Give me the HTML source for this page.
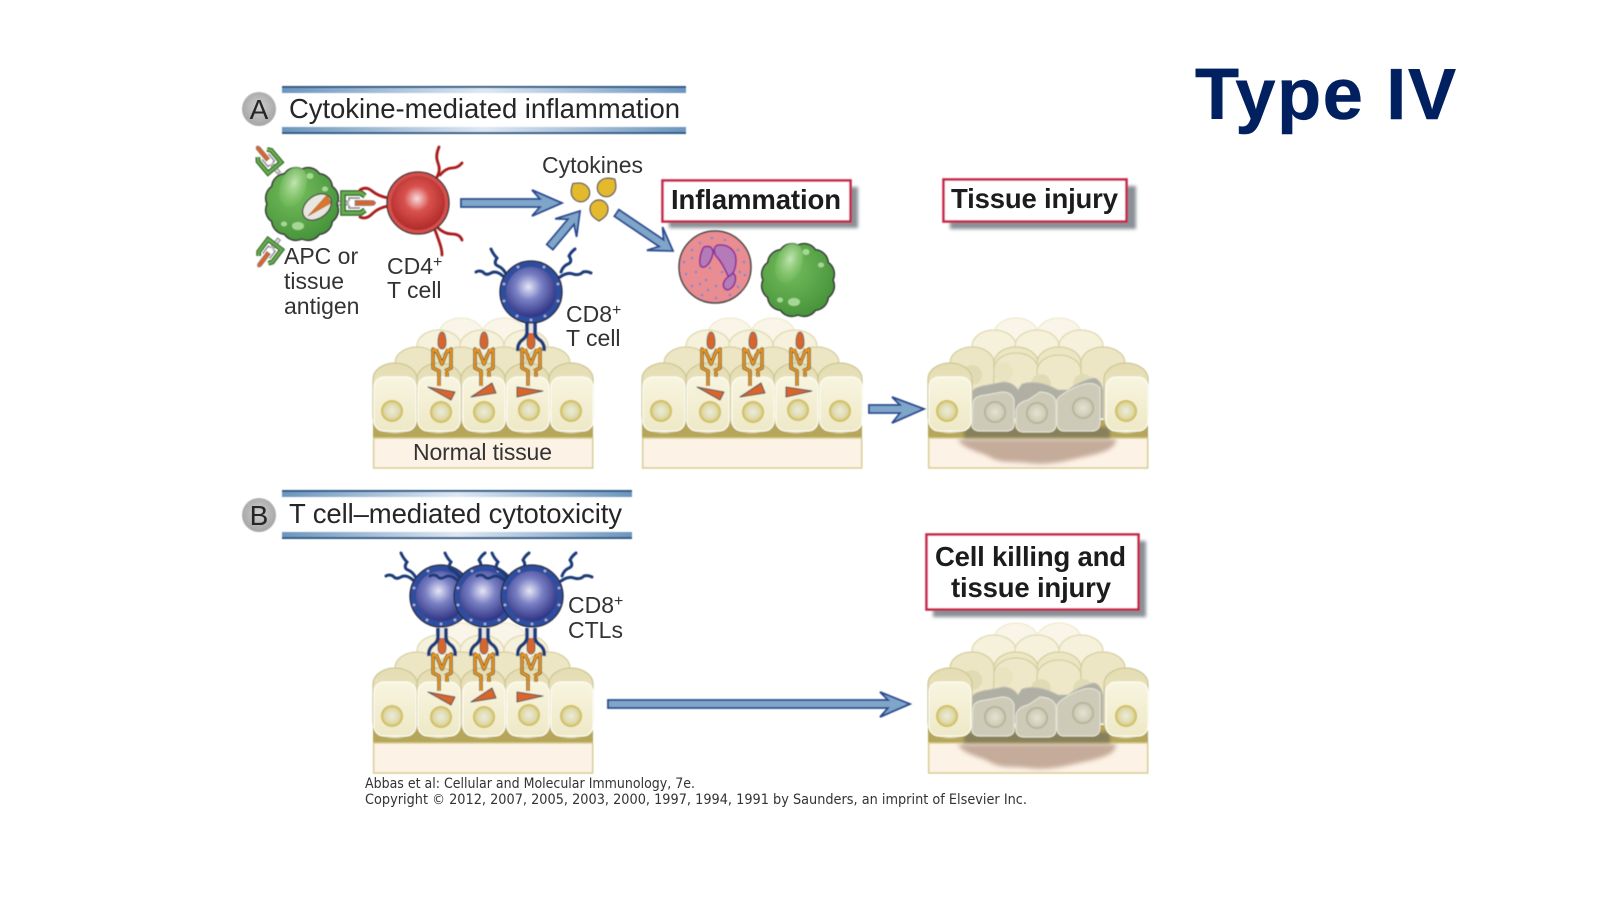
<!DOCTYPE html>
<html>
<head>
<meta charset="utf-8">
<style>
html,body{margin:0;padding:0;background:#fff;width:1600px;height:900px;overflow:hidden}
svg{display:block}
text{font-family:"Liberation Sans",sans-serif;fill:#262626}
.b{font-weight:bold;fill:#1c1c1c}
.l{font-size:23px;fill:#333}
.h{font-size:27.5px}
</style>
</head>
<body>
<svg width="1600" height="900" viewBox="0 0 1600 900" xmlns="http://www.w3.org/2000/svg">
<defs>
<linearGradient id="bar" x1="0" x2="1" y1="0" y2="0"><stop offset="0" stop-color="#6c95bd"/><stop offset=".5" stop-color="#dde7f2"/><stop offset="1" stop-color="#6c95bd"/></linearGradient>
<radialGradient id="gb" cx=".5" cy=".45" r=".55"><stop offset="0" stop-color="#d0d0d0"/><stop offset="1" stop-color="#a4a4a4"/></radialGradient>
<radialGradient id="red" cx=".48" cy=".42" r=".58"><stop offset="0" stop-color="#f7dcdc"/><stop offset=".4" stop-color="#d9524e"/><stop offset="1" stop-color="#b02a2a"/></radialGradient>
<radialGradient id="blue" cx=".45" cy=".4" r=".62"><stop offset="0" stop-color="#e6e6f6"/><stop offset=".42" stop-color="#7a80c4"/><stop offset="1" stop-color="#2c3080"/></radialGradient>
<radialGradient id="green" cx=".4" cy=".35" r=".7"><stop offset="0" stop-color="#74bd5c"/><stop offset="1" stop-color="#46923a"/></radialGradient>
<radialGradient id="hl" cx=".5" cy=".4" r=".6"><stop offset="0" stop-color="#c4e6b4"/><stop offset="1" stop-color="#74bd5c" stop-opacity=".4"/></radialGradient>
<radialGradient id="nuc" cx=".5" cy=".5" r=".5"><stop offset="0" stop-color="#ecebd8"/><stop offset=".65" stop-color="#dedaaf"/><stop offset=".85" stop-color="#d8c870"/><stop offset="1" stop-color="#c7b350"/></radialGradient>
<radialGradient id="nug" cx=".5" cy=".5" r=".5"><stop offset="0" stop-color="#e4e3d2"/><stop offset=".75" stop-color="#cfcdb8"/><stop offset="1" stop-color="#aaa88e"/></radialGradient>
<linearGradient id="cellf" x1="0" x2="0" y1="0" y2="1"><stop offset="0" stop-color="#f8f5e0"/><stop offset="1" stop-color="#eee8c6"/></linearGradient>
<linearGradient id="capf" x1="0" x2="0" y1="0" y2="1"><stop offset="0" stop-color="#e4ddb2"/><stop offset="1" stop-color="#f0ebcd"/></linearGradient>
<filter id="bl" x="-20%" y="-50%" width="140%" height="200%"><feGaussianBlur stdDeviation="2"/></filter>
<filter id="sh" x="-10%" y="-20%" width="120%" height="140%"><feGaussianBlur stdDeviation="1.5"/></filter>
<filter id="art" x="-5%" y="-5%" width="110%" height="110%"><feGaussianBlur stdDeviation="0.45"/></filter>

<path id="wob" d="M35 0A14 14 0 0 1 30.3 17.5A14 14 0 0 1 17.5 30.3A14 14 0 0 1 0 35A14 14 0 0 1 -17.5 30.3A14 14 0 0 1 -30.3 17.5A14 14 0 0 1 -35 0A14 14 0 0 1 -30.3 -17.5A14 14 0 0 1 -17.5 -30.3A14 14 0 0 1 0 -35A14 14 0 0 1 17.5 -30.3A14 14 0 0 1 30.3 -17.5A14 14 0 0 1 35 0Z"/>

<g id="apc">
<use href="#wob" fill="url(#green)" stroke="#333" stroke-width="1.5"/>
<ellipse cx="-9" cy="-17" rx="13" ry="21" transform="rotate(18 -9 -17)" fill="url(#hl)"/>
<ellipse cx="-4" cy="22" rx="6" ry="4" fill="#a6d894"/>
<ellipse cx="-18" cy="20" rx="3" ry="2.5" fill="#a6d894"/>
<ellipse cx="8" cy="-28" rx="3.5" ry="3" fill="#a6d894"/>
<ellipse cx="23" cy="-15" rx="3" ry="2.5" fill="#a6d894"/>
</g>

<g id="cd8">
<g fill="none" stroke="#1d3a78" stroke-width="3" stroke-linecap="round">
<path d="M-25 -18Q-28 -24 -33 -26T-34 -34Q-38 -38 -40 -43"/>
<path d="M-28 -16Q-35 -22 -40 -19T-48 -20Q-52 -22 -55 -20"/>
<path d="M30 -20Q32 -26 37 -28T38 -36Q40 -40 44 -43"/>
<path d="M29 -15Q36 -20 42 -18T52 -20Q56 -21 60 -19"/>
</g>
<circle r="31" fill="#2d4d9e" stroke="#2a2a38" stroke-width="1.3"/>
<circle r="25" fill="url(#blue)"/>
<g fill="#aab0dc"><circle cx="-27" cy="-8" r="1.4"/><circle cx="-27" cy="9" r="1.4"/><circle cx="-14" cy="24" r="1.4"/><circle cx="0" cy="28" r="1.4"/><circle cx="14" cy="24" r="1.4"/><circle cx="27" cy="9" r="1.4"/><circle cx="27" cy="-8" r="1.4"/><circle cx="13" cy="-25" r="1.4"/><circle cx="-13" cy="-25" r="1.4"/></g>
</g>

<g id="pep"><path d="M0 -8C3 -8 4 -2 4 3C4 7 2 9 0 9C-2 9 -4 7 -4 3C-4 -2 -3 -8 0 -8Z" fill="#d9652a" stroke="#666" stroke-width="1"/></g>
<g id="mhc">
<g fill="none" stroke-linejoin="round">
<path d="M-4 13L-9 9V28L-3 31V46M4 13L9 9V28L3 31M-6 9L0 24L6 9M5 32V37" stroke="#5a4a20" stroke-width="3.6"/>
<path d="M-4 13L-9 9V28L-3 31V46M4 13L9 9V28L3 31M-6 9L0 24L6 9M5 32V37" stroke="#ea941a" stroke-width="2.1"/>
</g>
<use href="#pep"/>
</g>
<g id="tcrfork" fill="none">
<rect x="-2.5" y="-17" width="5" height="10" fill="#e4e4e4"/>
<path d="M-4 -17V-8Q-4 -3 -10 1Q-14 5 -13 11M4 -17V-8Q4 -3 10 1Q14 5 13 11" stroke="#1d3a78" stroke-width="3.6"/>
</g>

<g id="back">
<g fill="#f9f6e9" stroke="#efead0" stroke-width="1.3"><rect x="66" y="18" width="44" height="70" rx="22" ry="16"/><rect x="109" y="18" width="44" height="70" rx="22" ry="16"/></g>
<g fill="#f5f1da" stroke="#e0d9b0" stroke-width="1.3"><rect x="44" y="30" width="44" height="70" rx="22" ry="16"/><rect x="87" y="30" width="44" height="70" rx="22" ry="16"/><rect x="131" y="30" width="44" height="70" rx="22" ry="16"/></g>
<g fill="#ece6c4" stroke="#d6cea0" stroke-width="1.3"><rect x="22" y="47" width="44" height="70" rx="22" ry="16"/><rect x="66" y="47" width="44" height="70" rx="22" ry="16"/><rect x="109" y="47" width="44" height="70" rx="22" ry="16"/><rect x="153" y="47" width="44" height="70" rx="22" ry="16"/></g>
<rect x="0" y="120" width="220" height="18" fill="#b5a65a"/>
<rect x=".7" y="138" width="219" height="30" fill="#fdf2e6" stroke="#d8cd90" stroke-width="1.5"/>
</g>
<g id="cap"><rect width="44" height="70" y="63" rx="22" ry="16" fill="url(#capf)" stroke="#cfc796" stroke-width="1.3"/></g>
<g id="cell"><rect x="1" y="77" width="42" height="54" rx="10" fill="url(#cellf)" stroke="#fdfcf4" stroke-width="1.2"/></g>

<g id="normal" transform="translate(373 300)">
<use href="#back"/>
<use href="#cap" x="0"/><use href="#cap" x="44"/><use href="#cap" x="88"/><use href="#cap" x="132"/><use href="#cap" x="176"/>
<use href="#cell" x="0"/><use href="#cell" x="44"/><use href="#cell" x="89"/><use href="#cell" x="133"/><use href="#cell" x="177"/>
<g fill="url(#nuc)"><circle cx="19" cy="111" r="11"/><circle cx="68" cy="112" r="11"/><circle cx="111" cy="112" r="11"/><circle cx="156" cy="110" r="11"/><circle cx="198" cy="111" r="11"/></g>
<g fill="#d9652a" stroke="#555" stroke-width="1.1" stroke-linejoin="round">
<polygon points="55,87 82,92 78,100"/><polygon points="98,97 119,83 123,93"/><polygon points="144,87 170,91 144,97"/>
</g>
<use href="#mhc" x="69" y="40"/><use href="#mhc" x="111" y="40"/><use href="#mhc" x="158" y="40"/>
</g>

<g id="injured" transform="translate(928 300)">
<use href="#back"/>
<rect x="66" y="53" width="44" height="70" rx="22" ry="16" fill="#eee8c8" stroke="#d6cea0" stroke-width="1.3"/>
<rect x="109" y="55" width="44" height="70" rx="22" ry="16" fill="#eee8c8" stroke="#d6cea0" stroke-width="1.3"/>
<g fill="#e0dbb4"><circle cx="75" cy="72" r="10" opacity=".4"/><circle cx="113" cy="84" r="10"/><circle cx="155" cy="84" r="10"/><circle cx="44" cy="75" r="10"/></g>
<path d="M30 139H188C188 148 178 152 160 156C140 160 124 166 100 163C84 161 72 164 60 156C46 150 34 148 30 139Z" fill="#c5ab9a" filter="url(#bl)"/>
<rect x="36" y="127" width="146" height="11" fill="#87805a" filter="url(#sh)"/>
<path d="M44 92Q46 87 60 85L75 82Q85 82 90 90L94 84Q110 79 130 90L140 90Q150 82 165 78Q172 78 175 90V118H44Z" fill="#b0afa4" stroke="#c4c3b6" stroke-width="1"/>
<use href="#cap" x="0"/><use href="#cap" x="176"/>
<use href="#cell" x="0"/><use href="#cell" x="177"/>
<g fill="#cdcbb8" stroke="#e2e1d4" stroke-width="1.2">
<path d="M45 104Q45 96 58 95L74 92Q84 92 86 100V124Q86 131 78 131H52Q44 131 44 124Z"/>
<path d="M88 110Q90 102 100 100L112 92Q128 93 128 104V124Q128 132 120 132H96Q88 132 88 124Z"/>
<path d="M129 100Q132 94 150 86Q166 80 172 88V122Q172 131 164 131H136Q129 131 129 122Z"/>
</g>
<g><circle cx="67" cy="112" r="11" fill="url(#nug)"/><circle cx="109" cy="113" r="11" fill="url(#nug)"/><circle cx="155" cy="108" r="11" fill="url(#nug)"/></g>
<g fill="url(#nuc)"><circle cx="19" cy="111" r="11"/><circle cx="198" cy="111" r="11"/></g>
</g>

<g id="tcr">
<rect x="0" y="-2" width="12" height="4" fill="#ddd" stroke="#777" stroke-width="1"/>
<path d="M30 -7L26 -10H8V10H26L30 7" fill="none" stroke="#2e5c28" stroke-width="5.5"/>
<path d="M30 -7L26 -10H8V10H26L30 7" fill="none" stroke="#63ad4c" stroke-width="3"/>
<path d="M25 -5H14V5H25" fill="none" stroke="#888" stroke-width="1.6"/>
<rect x="14" y="-2" width="9" height="4" fill="#fff"/>
<path d="M20 -2.5L38 -2.4Q43 0 38 2.4L20 2.5Z" fill="#d9652a" stroke="#777" stroke-width=".8"/>
</g>
<path id="drop" d="M0 -11C5 -8 9 -5 9 1A9 9 0 1 1 -9 1C-9 -5 -5 -8 0 -11Z" fill="#e3b92f" stroke="#555" stroke-width="1.2"/>
</defs>

<!-- Title -->
<text x="1195" y="119" font-size="72" textLength="261" style="fill:#002060;stroke:#002060;stroke-width:.6;stroke-linejoin:round;font-weight:bold">Type IV</text>

<g filter="url(#art)">
<!-- Header bars -->
<g>
<rect x="282" y="86" width="404" height="7" fill="url(#bar)"/><rect x="282" y="86" width="404" height="2" fill="#2f5a85"/>
<rect x="282" y="127" width="404" height="7" fill="url(#bar)"/><rect x="282" y="132" width="404" height="2" fill="#2f5a85"/>
<rect x="282" y="490" width="350" height="7" fill="url(#bar)"/><rect x="282" y="490" width="350" height="2" fill="#2f5a85"/>
<rect x="282" y="532" width="350" height="7" fill="url(#bar)"/><rect x="282" y="537" width="350" height="2" fill="#2f5a85"/>
<circle cx="259" cy="109" r="17" fill="url(#gb)"/><circle cx="259" cy="515" r="17" fill="url(#gb)"/>
</g>

<!-- Tissues -->
<use href="#normal"/>
<use href="#normal" transform="translate(269 0)"/>
<use href="#normal" transform="translate(0 305)"/>
<use href="#injured"/>
<use href="#injured" transform="translate(0 305)"/>

<!-- APC + CD4 -->
<g>
<use href="#tcr" transform="translate(279 173) rotate(230) scale(.86)"/>
<use href="#tcr" transform="translate(279 239) rotate(127) scale(.86)"/>
<use href="#tcr" transform="translate(335 203)"/>
<use href="#apc" transform="translate(302 204)"/>
<ellipse cx="317" cy="207" rx="16" ry="11" transform="rotate(-38 317 207)" fill="#e8e6de" stroke="#444" stroke-width="1.3"/>
<polygon points="308,216 327,195 331,203" fill="#d9762a" stroke="#a85a20" stroke-width=".6"/>
<g fill="none" stroke="#a81c1c" stroke-width="2.8" stroke-linecap="round">
<path d="M388 198Q378 196 372 191T360 190"/>
<path d="M388 206Q378 208 372 214T360 217"/>
<path d="M437 177Q441 170 438 163T439 147"/>
<path d="M440 175Q446 168 452 168T462 163"/>
<path d="M437 227Q444 234 452 234T462 240"/>
<path d="M435 230Q438 238 440 244T442 255"/>
</g>
<circle cx="418" cy="203" r="31" fill="#d4504c" stroke="#333" stroke-width="1.3"/>
<circle cx="418" cy="203" r="27" fill="url(#red)"/>
</g>

<!-- Cytokine drops -->
<use href="#drop" transform="translate(580 192) rotate(-40)"/>
<use href="#drop" transform="translate(607 187) rotate(45)"/>
<use href="#drop" transform="translate(599 210) rotate(180)"/>

<!-- Arrows -->
<g fill="#7fa6c9" stroke="#2a4a90" stroke-width="1.8" stroke-linejoin="miter">
<polygon points="461,199 540,199 532,190 562,203 532,216 540,207 461,207"/>
<polygon transform="translate(580 211) rotate(-50)" points="-47,-4 -14,-4 -22,-14 0,0 -22,14 -14,4 -47,4"/>
<polygon transform="translate(673 251) rotate(34)" points="-68,-4 -14,-4 -22,-14 0,0 -22,14 -14,4 -68,4"/>
<polygon points="869,405 900,405 892,397 924,409 892,423 900,413 869,413"/>
<polygon points="608,700 888,700 880,692 910,704 880,717 888,708 608,708"/>
</g>

<!-- CD8 A -->
<use href="#tcrfork" x="531" y="340"/>
<use href="#cd8" x="531" y="292"/>

<!-- CD8 B -->
<use href="#tcrfork" x="442" y="645"/>
<use href="#tcrfork" x="484" y="645"/>
<use href="#tcrfork" x="531" y="645"/>
<use href="#cd8" x="441" y="596"/>
<use href="#cd8" x="485" y="596"/>
<use href="#cd8" x="532" y="596"/>

<!-- Neutrophil -->
<circle cx="715" cy="267" r="36" fill="#e98d92" stroke="#444" stroke-width="1.5"/>
<g fill="#7f86cc">
<circle cx="692" cy="250" r="1.3"/><circle cx="700" cy="243" r="1.3"/><circle cx="712" cy="238" r="1.3"/><circle cx="725" cy="240" r="1.3"/><circle cx="738" cy="250" r="1.3"/><circle cx="744" cy="262" r="1.3"/><circle cx="745" cy="275" r="1.3"/><circle cx="738" cy="287" r="1.3"/><circle cx="730" cy="295" r="1.3"/><circle cx="716" cy="298" r="1.3"/><circle cx="702" cy="295" r="1.3"/><circle cx="692" cy="286" r="1.3"/><circle cx="686" cy="274" r="1.3"/><circle cx="684" cy="262" r="1.3"/><circle cx="696" cy="272" r="1.3"/><circle cx="706" cy="280" r="1.3"/><circle cx="716" cy="286" r="1.3"/><circle cx="700" cy="284" r="1.3"/><circle cx="722" cy="272" r="1.3"/><circle cx="710" cy="268" r="1.3"/><circle cx="692" cy="258" r="1.3"/><circle cx="735" cy="262" r="1.3"/><circle cx="740" cy="272" r="1.3"/><circle cx="708" cy="290" r="1.3"/><circle cx="728" cy="285" r="1.3"/><circle cx="734" cy="278" r="1.3"/>
</g>
<g fill="#b57ab8" stroke="#8b2f9c" stroke-width="1.6">
<path d="M704 247C711 245 715 249 712 257C710 263 706 268 702 267C698 266 700 252 704 247Z"/>
<path d="M718 245C728 244 736 250 736 260C736 268 734 271 733 273C732 276 731 278 730 280C726 272 722 262 716 256C713 251 714 246 718 245Z"/>
<path d="M733 273C738 277 735 286 730 289C725 292 722 286 724 282C725 278 730 276 733 273Z"/>
</g>

<!-- Green cell -->
<use href="#apc" transform="translate(798 280)"/>

<!-- Label boxes -->
<g>
<rect x="669" y="187" width="189" height="41" fill="#8a9096" filter="url(#sh)"/>
<rect x="662.5" y="180.5" width="188" height="41" fill="#fff" stroke="#c7284c" stroke-width="2.6"/>
<rect x="950" y="186" width="186" height="43" fill="#8a9096" filter="url(#sh)"/>
<rect x="943.5" y="179.5" width="183" height="42" fill="#fff" stroke="#c7284c" stroke-width="2.6"/>
<rect x="933" y="541" width="213" height="76" fill="#8a9096" filter="url(#sh)"/>
<rect x="926.5" y="534.5" width="212" height="75" fill="#fff" stroke="#c7284c" stroke-width="2.6"/>
</g>
</g>

<!-- Labels -->
<text x="259" y="119" font-size="28" text-anchor="middle">A</text>
<text x="259" y="525" font-size="28" text-anchor="middle">B</text>
<text x="289" y="118" class="h" textLength="391">Cytokine-mediated inflammation</text>
<text x="289" y="523" class="h" textLength="333">T cell–mediated cytotoxicity</text>
<text x="542" y="173" class="l">Cytokines</text>
<text x="284" y="264" class="l">APC or</text>
<text x="284" y="289" class="l">tissue</text>
<text x="284" y="314" class="l">antigen</text>
<text x="387" y="274" class="l">CD4<tspan font-size="16" dy="-7">+</tspan></text>
<text x="387" y="298" class="l">T cell</text>
<text x="566" y="322" class="l">CD8<tspan font-size="16" dy="-7">+</tspan></text>
<text x="566" y="346" class="l">T cell</text>
<text x="568" y="613" class="l">CD8<tspan font-size="16" dy="-7">+</tspan></text>
<text x="568" y="638" class="l">CTLs</text>
<text x="413" y="460" font-size="23" textLength="139" style="fill:#333">Normal tissue</text>
<text x="671" y="209" font-size="27.5" class="b" textLength="170">Inflammation</text>
<text x="951" y="208" font-size="27.5" class="b" textLength="167">Tissue injury</text>
<text x="935" y="566" font-size="27.5" class="b" textLength="191">Cell killing and</text>
<text x="951" y="597" font-size="27.5" class="b" textLength="160">tissue injury</text>
<text x="365" y="788" font-size="14" textLength="330" lengthAdjust="spacingAndGlyphs" style="font-family:'DejaVu Sans',sans-serif;fill:#333">Abbas et al: Cellular and Molecular Immunology, 7e.</text>
<text x="365" y="804" font-size="14" textLength="662" lengthAdjust="spacingAndGlyphs" style="font-family:'DejaVu Sans',sans-serif;fill:#333">Copyright © 2012, 2007, 2005, 2003, 2000, 1997, 1994, 1991 by Saunders, an imprint of Elsevier Inc.</text>
</svg>
</body>
</html>
